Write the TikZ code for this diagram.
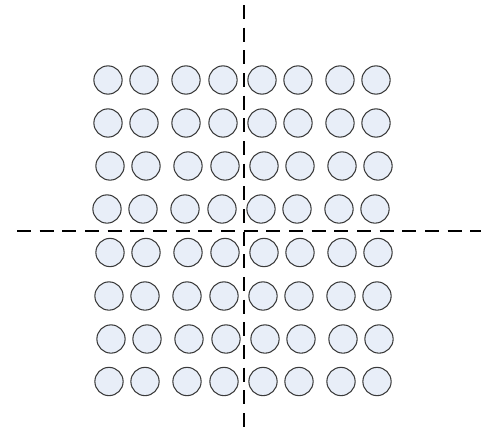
\documentclass[tikz,border=0pt]{standalone}
\usepackage{xcolor}
\usepackage{tikz}
\usetikzlibrary{positioning,calc}

\definecolor{cellfill}{HTML}{E8EEF8}
\definecolor{cellline}{HTML}{3A3A3A}

\begin{document}
\begin{tikzpicture}[
  x=0.75pt, y=-0.75pt,
  cell/.style={circle, draw=cellline, fill=cellfill, line width=0.8pt,
               minimum size=21.2pt, inner sep=0pt},
  axis/.style={line width=1.5pt, black, dash pattern=on 10.5pt off 6.5pt},
]
\useasboundingbox (0,0) rectangle (481,432);

% ================= grid of 8 x 8 circles =================
\foreach \r/\y/\s in {1/80/0, 2/123/0, 3/166/2, 4/209/-1,
                      5/252.5/2, 6/296/1, 7/339/3, 8/381.5/1}
  \foreach \c/\x in {1/108, 2/144, 3/186, 4/223,
                     5/262, 6/298, 7/340, 8/376}
    \node[cell] (c\r\c) at (\x+\s,\y) {};

% ================= dashed axes =================
\coordinate (vtop) at (243.5,5);
\coordinate (vbot) at (243.5,432);
\coordinate (hleft) at (17,230.5);
\coordinate (hright) at (481,230.5);

\draw[axis] (vtop) -- (vbot);
\draw[axis] (hleft) -- (hright);

\end{tikzpicture}
\end{document}
